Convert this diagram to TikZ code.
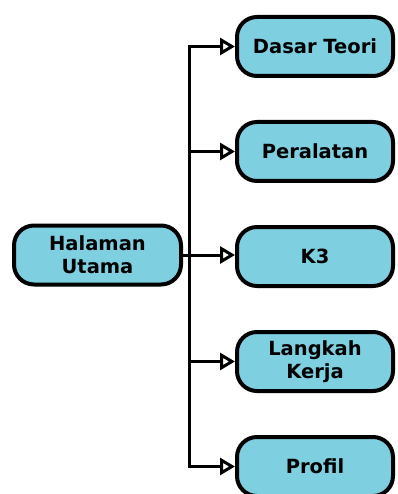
\documentclass[tikz,border=0pt]{standalone}
\usepackage{fontspec}
\setmainfont{DejaVu Sans}
\usetikzlibrary{positioning,arrows.meta,calc}

\definecolor{menublue}{RGB}{126,207,224}

\tikzset{
  menubox/.style={draw=black,fill=menublue,line width=4pt,rounded corners=20pt,
    minimum width=156pt,minimum height=59pt,inner sep=0pt,align=center,
    font=\fontsize{19.5}{23}\selectfont\bfseries},
  link/.style={draw=black,line width=3pt,
    -{Triangle[open,length=15pt,width=17pt,line width=3pt]}}
}

\begin{document}
\begin{tikzpicture}[x=1pt,y=-1pt]

\useasboundingbox [fill=white] (0,0) rectangle (397,494);

\node [menubox,minimum width=167pt] (home) at (97.5,255) {Halaman\\Utama};

\node [menubox] (teori) at (315,46.5) {Dasar Teori};
\node [menubox,below=42pt of teori] (alat) {Peralatan};
\node [menubox,below=42pt of alat] (kkk) {K3};
\node [menubox,below=42pt of kkk] (kerja) {Langkah\\Kerja};
\node [menubox,below=42pt of kerja] (profil) {Profil};

\coordinate (fork) at ($(home.east)+(6,0)$);

\draw [line width=3pt] (fork |- teori) -- (fork |- profil);
\draw [link] (home.east) -- (home.east -| kkk.west);
\foreach \item in {teori,alat,kerja,profil}
  \draw [link] (fork) |- (\item.west);

\end{tikzpicture}
\end{document}
